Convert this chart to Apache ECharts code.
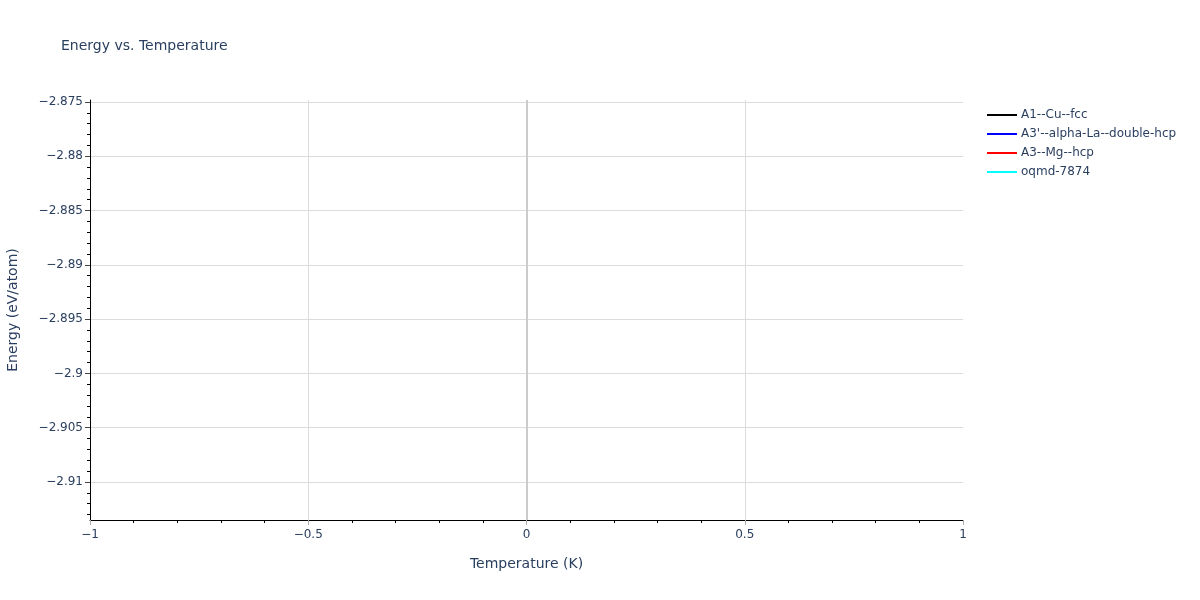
<!DOCTYPE html>
<html>
<head>
<meta charset="utf-8">
<script src="https://cdn.jsdelivr.net/npm/echarts@6/dist/echarts.min.js"></script>
<style>html,body{margin:0;padding:0;background:#fff}#chart{width:1200px;height:600px}</style>
</head>
<body>
<div id="chart"></div>
<script>
// Series (no visible data points in the reference)
const seriesNames = ["A1--Cu--fcc", "A3'--alpha-La--double-hcp", "A3--Mg--hcp", "oqmd-7874"];
const seriesColors = ["black", "blue", "red", "cyan"];
const dataCu = [];
const dataAlphaLa = [];
const dataMg = [];
const dataOqmd = [];
const seriesData = [dataCu, dataAlphaLa, dataMg, dataOqmd];

// Axis ticks
const xTicks = [-1, -0.5, 0, 0.5, 1];
const yTicks = [-2.91, -2.905, -2.9, -2.895, -2.89, -2.885, -2.88, -2.875];
const yRange = [-2.9135, -2.87482];
const xRange = [-1, 1];

const yMinor = [];
for (let k = -2913; k <= -2875; k++) {
  if (k % 5 !== 0) yMinor.push(k / 1000);
}

const FONT = '"DejaVu Sans", Verdana, sans-serif';
const TXT = '#2a3f5f';
const fmt = v => String(+v.toFixed(4)).replace('-', '\u2212');

const chart = echarts.init(document.getElementById('chart'));
chart.setOption({
  backgroundColor: '#fff',
  animation: false,
  textStyle: { fontFamily: FONT },
  title: {
    text: 'Energy vs. Temperature',
    left: 61, top: 39, padding: 0,
    textStyle: { fontFamily: FONT, fontSize: 14, fontWeight: 'normal', color: TXT }
  },
  legend: {
    orient: 'vertical',
    left: 982, top: 104,
    icon: 'rect', itemWidth: 30, itemHeight: 2, itemGap: 7,
    textStyle: { fontFamily: FONT, fontSize: 12, color: TXT, padding: [0, 0, 0, -1] },
    data: seriesNames
  },
  grid: { left: 90, right: 237, top: 100, bottom: 80, containLabel: false, outerBoundsMode: 'none' },
  xAxis: {
    type: 'value',
    min: xRange[0], max: xRange[1], interval: 0.5,
    name: 'Temperature (K)', nameLocation: 'middle', nameGap: 37,
    nameTextStyle: { fontFamily: FONT, fontSize: 14, color: TXT },
    axisLine: { show: true, onZero: false, lineStyle: { color: '#000', width: 1 } },
    axisTick: { show: true, inside: false, length: 5, lineStyle: { color: '#aaa', width: 1 } },
    minorTick: { show: true, splitNumber: 5, length: 3, lineStyle: { color: '#000', width: 1 } },
    axisLabel: { margin: 9, fontFamily: FONT, fontSize: 12, color: TXT, formatter: fmt },
    splitLine: { show: true, showMinLine: false, showMaxLine: false, lineStyle: { color: '#dcdcdc', width: 1 } },
    minorSplitLine: { show: false }
  },
  yAxis: [{
    type: 'value',
    min: yRange[0], max: yRange[1],
    name: 'Energy (eV/atom)', nameLocation: 'middle', nameGap: 70,
    nameTextStyle: { fontFamily: FONT, fontSize: 14, color: TXT },
    axisLine: { show: true, onZero: false, lineStyle: { color: '#000', width: 1 } },
    axisTick: { show: true, inside: false, length: 5, customValues: yTicks, lineStyle: { color: '#444', width: 1 } },
    axisLabel: { margin: 7, fontFamily: FONT, fontSize: 12, color: TXT, customValues: yTicks, formatter: fmt },
    splitLine: { show: true, lineStyle: { color: '#dcdcdc', width: 1 } }
  }, {
    type: 'value',
    position: 'left',
    min: yRange[0], max: yRange[1],
    axisLine: { show: false, onZero: false },
    axisTick: { show: true, inside: false, length: 3, customValues: yMinor, lineStyle: { color: '#000', width: 1 } },
    axisLabel: { show: false },
    splitLine: { show: false }
  }],
  series: seriesNames.map((n, i) => ({
    name: n,
    type: 'line',
    data: seriesData[i],
    color: seriesColors[i],
    lineStyle: { width: 2 },
    showSymbol: false,
    markLine: i === 0 ? {
      silent: true, symbol: 'none', label: { show: false },
      lineStyle: { color: '#cccccc', width: 2, type: 'solid' },
      data: [{ xAxis: 0 }]
    } : undefined
  }))
});
</script>
</body>
</html>
